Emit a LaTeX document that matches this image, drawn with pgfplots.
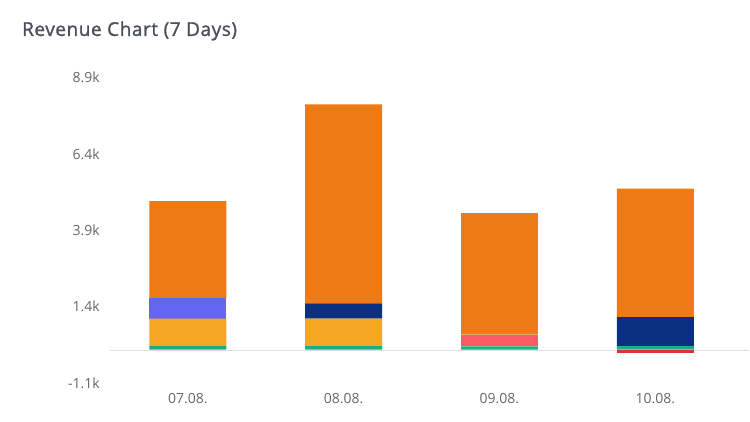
\documentclass[border=0pt]{standalone}
\usepackage{pgfplots}
\pgfplotsset{compat=1.18}
\usepackage{fontspec}
\setmainfont{Open Sans}
\newfontfamily\titlefont[FakeBold=1.2, LetterSpace=3]{Open Sans}
\definecolor{cOrange}{HTML}{EE7A16}
\definecolor{cPurple}{HTML}{6466F1}
\definecolor{cYellow}{HTML}{F5A623}
\definecolor{cGreen}{HTML}{1EAD80}
\definecolor{cNavy}{HTML}{0B3081}
\definecolor{cSalmon}{HTML}{FC5A67}
\definecolor{cRed}{HTML}{D8333A}
\definecolor{titlec}{HTML}{4A4F5C}
\definecolor{tickc}{HTML}{666666}
\definecolor{zeroc}{HTML}{DDDEE6}
\begin{document}
\begin{tikzpicture}[x=1pt,y=1pt]
\fill[white] (0,0) rectangle (750,422);
\node[anchor=west, inner sep=0, font=\titlefont\fontsize{19}{22}\selectfont, text=titlec] at (22,391) {Revenue Chart (7 Days)};
\begin{axis}[at={(110pt,38.5pt)}, anchor=south west, scale only axis,
  width=624pt, height=305.5pt,
  ybar stacked, bar width=77pt,
  xmin=-0.5, xmax=3.5, ymin=-1.1, ymax=8.9,
  axis line style={draw=none}, tick style={draw=none}, major tick length=0pt,
  xtick={0,1,2,3}, xticklabels={07.08.,08.08.,09.08.,10.08.},
  ytick={-1.1,1.4,3.9,6.4,8.9}, yticklabels={-1.1k,1.4k,3.9k,6.4k,8.9k},
  tick label style={font=\fontsize{14}{16}\selectfont, text=tickc},
  xticklabel style={anchor=base, yshift=-20.5pt, inner sep=0pt},
  yticklabel style={anchor=base east, xshift=-10pt, yshift=-5pt, inner sep=0pt},
  clip=false,
]
\draw[zeroc, line width=1.5pt] (axis cs:-0.5,-0.03) -- (axis cs:3.603,-0.03);
% green
\addplot[fill=cGreen, draw=none] coordinates {(0,0.13) (1,0.115) (2,0.10) (3,0.11)};
% yellow
\addplot[fill=cYellow, draw=none] coordinates {(0,0.885) (1,0.90) (2,0) (3,0)};
% salmon
\addplot[fill=cSalmon, draw=none] coordinates {(0,0) (1,0) (2,0.39) (3,0)};
% purple
\addplot[fill=cPurple, draw=none] coordinates {(0,0.67) (1,0) (2,0) (3,0)};
% navy
\addplot[fill=cNavy, draw=none] coordinates {(0,0) (1,0.50) (2,0) (3,0.95)};
% orange
\addplot[fill=cOrange, draw=none] coordinates {(0,3.18) (1,6.52) (2,3.98) (3,4.21)};
\end{axis}
\begin{axis}[at={(110pt,38.5pt)}, anchor=south west, scale only axis,
  width=624pt, height=305.5pt,
  ybar, bar width=77pt,
  xmin=-0.5, xmax=3.5, ymin=-1.1, ymax=8.9,
  hide axis, clip=false,
]
\addplot[fill=cRed, draw=none] coordinates {(3,-0.11)};
\end{axis}
\end{tikzpicture}
\end{document}
